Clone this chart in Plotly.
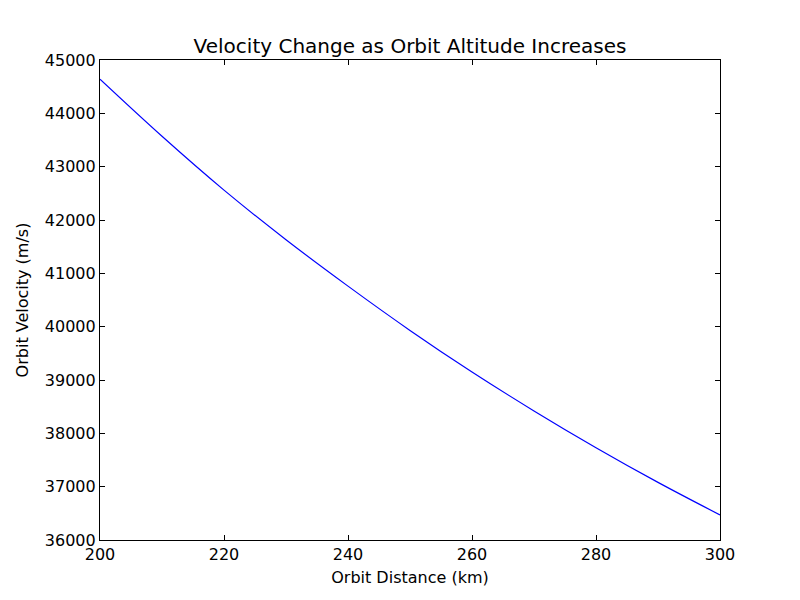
import plotly.graph_objects as go

# orbit distance (km) and velocity (m/s)
distance_km = [200, 210, 220, 230, 240, 250, 260, 270, 280, 290, 300]
velocity_ms = [44640, 43570, 42560, 41630, 40760, 39930, 39150, 38420, 37730, 37080, 36470]

x_ticks = [200, 220, 240, 260, 280, 300]
y_ticks = [36000, 37000, 38000, 39000, 40000, 41000, 42000, 43000, 44000, 45000]

font_family = "DejaVu Sans"

fig = go.Figure()

fig.add_trace(go.Scatter(
    x=distance_km, y=velocity_ms,
    mode="lines",
    line=dict(color="#0000ff", width=1.2, shape="spline"),
    showlegend=False
))

axis_style = dict(
    showgrid=False, zeroline=False,
    showline=True, linecolor="black", linewidth=1.2, mirror="allticks",
    ticks="inside", ticklen=5, tickwidth=1, tickcolor="black",
    tickfont=dict(family=font_family, size=16, color="black"),
)

# the page puts the figure 8px in from the top-left corner, margins allow for it
fig.update_layout(
    width=800, height=600,
    margin=dict(l=92, r=88, t=52, b=68),
    paper_bgcolor="white", plot_bgcolor="white",
    font=dict(family=font_family, color="black"),
    title=dict(
        text="Velocity Change as Orbit Altitude Increases",
        x=0.5025, xanchor="center", y=0.925, yanchor="bottom",
        font=dict(family=font_family, size=20, color="black")
    ),
    xaxis=dict(
        range=[200, 300], tickvals=x_ticks, tickformat="d",
        title=dict(text="Orbit Distance (km)", font=dict(size=16), standoff=8),
        **axis_style
    ),
    yaxis=dict(
        range=[36000, 45000], tickvals=y_ticks, tickformat="d",
        title=dict(text="Orbit Velocity (m/s)", font=dict(size=16), standoff=12),
        **axis_style
    ),
)

fig.write_html("out.html")
